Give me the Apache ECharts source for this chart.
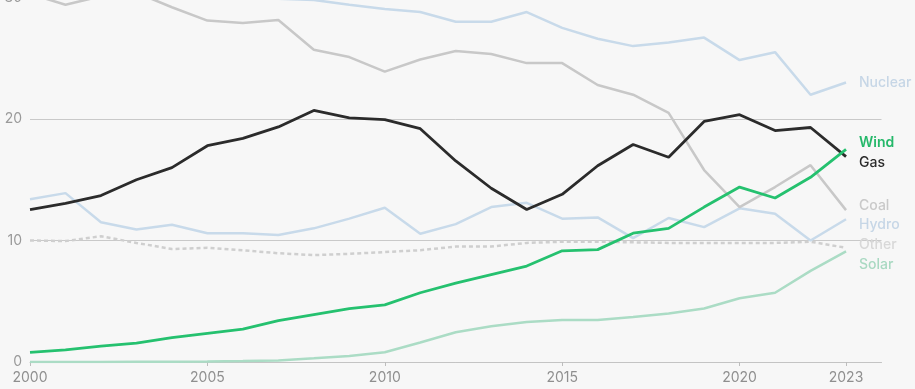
<!DOCTYPE html>
<html>
<head>
<meta charset="utf-8">
<script src="https://cdn.jsdelivr.net/npm/echarts@6/dist/echarts.min.js"></script>
<style>
html,body{margin:0;padding:0;background:#f7f7f7;overflow:hidden;}
#c{width:915px;height:513px;margin-top:-124px;}
</style>
</head>
<body>
<div id="c"></div>
<script>
const years = [2000,2001,2002,2003,2004,2005,2006,2007,2008,2009,2010,2011,2012,2013,2014,2015,2016,2017,2018,2019,2020,2021,2022,2023];
const xTickLabels = [2000,2005,2010,2015,2020,2023];
const nuclear = [31.0,31.5,31.4,31.0,31.2,30.6,30.6,29.9,29.8,29.4,29.05,28.8,28.0,28.0,28.8,27.5,26.6,26.0,26.3,26.7,24.85,25.5,22.0,23.0];
const coal    = [30.3,29.4,30.1,30.4,29.2,28.1,27.9,28.15,25.7,25.1,23.9,24.9,25.6,25.35,24.6,24.6,22.8,22.0,20.5,15.8,12.75,14.4,16.2,12.5];
const gas     = [12.55,13.05,13.7,15.0,16.0,17.8,18.4,19.35,20.7,20.1,19.95,19.2,16.55,14.3,12.55,13.8,16.15,17.9,16.85,19.8,20.35,19.05,19.3,16.9];
const wind    = [0.8,1.0,1.3,1.55,2.0,2.35,2.7,3.4,3.9,4.4,4.7,5.7,6.5,7.2,7.9,9.15,9.25,10.6,11.0,12.75,14.4,13.5,15.2,17.5];
const hydro   = [13.4,13.9,11.5,10.9,11.3,10.6,10.6,10.45,11.0,11.8,12.7,10.55,11.35,12.75,13.1,11.8,11.9,10.2,11.85,11.1,12.65,12.2,10.0,11.75];
const other   = [10.0,9.95,10.35,9.8,9.3,9.4,9.2,8.95,8.8,8.9,9.05,9.2,9.5,9.5,9.8,9.9,9.9,9.85,9.8,9.8,9.8,9.8,9.9,9.4];
const solar   = [0.0,0.0,0.01,0.02,0.03,0.05,0.08,0.12,0.3,0.5,0.8,1.6,2.45,2.95,3.3,3.45,3.45,3.7,4.0,4.4,5.25,5.7,7.5,9.1];
const yTicks = [0,10,20,30];

const pairs = arr => years.map((y,i)=>[y,arr[i]]);
const FONT = 'Inter, "Noto Sans", sans-serif';

function line(name, data, color, width, labelColor, labelOffsetY, opts) {
  opts = opts || {};
  return {
    name, type:'line', data: pairs(data), symbol:'none', smooth:false,
    lineStyle:{color, width, type: opts.dash || 'solid'},
    itemStyle:{color},
    emphasis:{disabled:true},
    z: opts.z || 2,
    endLabel:{
      show:true, formatter:name, color:labelColor, fontFamily:FONT,
      fontSize:14, fontWeight: opts.bold ? 600 : 500,
      distance:13, offset:[0,labelOffsetY]
    }
  };
}

const chart = echarts.init(document.getElementById('c'), null, {renderer:'canvas'});
chart.setOption({
  backgroundColor:'#f7f7f7',
  animation:false,
  grid:{left:30, right:33.5, top:0, bottom:27, containLabel:false},
  xAxis:{
    type:'value', min:2000, max:2024,
    axisLine:{show:true, lineStyle:{color:'#c4c4c4', width:1}},
    axisTick:{show:true, customValues:xTickLabels, length:4, lineStyle:{color:'#bdbdbd'}},
    axisLabel:{customValues:xTickLabels, color:'#8f8f8f', fontSize:14, fontFamily:FONT, margin:9, formatter: v=>String(v)},
    splitLine:{show:false}
  },
  yAxis:{
    type:'value', min:0, max:40, interval:10,
    axisLine:{show:false}, axisTick:{show:false},
    axisLabel:{color:'#9a9a9a', fontSize:14, fontFamily:FONT, margin:8,
      formatter: v => yTicks.includes(v) ? String(v) : ''},
    splitLine:{lineStyle:{color:'#c9c9c9', width:1}}
  },
  series:[
    line('Other', other, '#cfcfcf', 2.5, '#d8d8d8', -3, {dash:[4,3]}),
    line('Solar', solar, '#abdcc5', 2.5, '#a9d9c2', 13),
    line('Hydro', hydro, '#c8daea', 2.5, '#c6d6e6', 6),
    line('Nuclear', nuclear, '#c8daea', 2.5, '#c6d6e6', 0),
    line('Coal', coal, '#c8c8c8', 2.5, '#c9c9c9', -4),
    line('Gas', gas, '#2b2b2b', 2.8, '#2b2b2b', 6, {z:3}),
    line('Wind', wind, '#25c16f', 2.8, '#25b86a', -7, {z:4, bold:true})
  ]
});
</script>
</body>
</html>
